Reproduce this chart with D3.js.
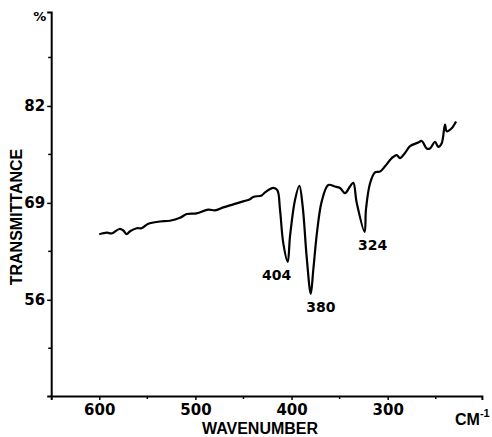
<!DOCTYPE html>
<html>
<head>
<meta charset="utf-8">
<script src="https://cdn.jsdelivr.net/npm/d3@7"></script>
<style>
  body { margin: 0; background: #fff; }
  svg text { font-family: "Liberation Sans", Arial, sans-serif; font-weight: bold; fill: #000; }
  svg text.num { font-family: "DejaVu Sans", sans-serif; }
</style>
</head>
<body>
<div id="chart"></div>
<script>
// Spectrum (wavenumber cm-1, transmittance %)
const wavenumber = [600, 592, 587, 579, 575, 571.5, 568, 561, 556, 549, 537, 526.5, 516, 509, 498.7, 486.6,
  479.6, 471, 460.6, 450.2, 443.2, 439.8, 431.1, 427.6, 419, 414.8, 412, 408.6, 404, 401.6, 396.4,
  391.9, 388.4, 384.3, 380, 377.4, 373.2, 368.6, 361.8, 354.8, 349.6, 344.4, 339.2, 335.8, 332.2,
  324, 322.6, 318.4, 313.2, 308, 302.8, 295.8, 290.6, 287.2, 282, 276.8, 268.2, 264.6, 259.4,
  256, 250.8, 247.4, 243.8, 240.4, 238.6, 233.4, 228.9];
const transmittance = [64.8, 65.0, 64.9, 65.5, 65.3, 64.8, 65.2, 65.6, 65.6, 66.2, 66.5, 66.6, 67.0, 67.5, 67.6, 68.1,
  68.0, 68.4, 68.8, 69.2, 69.5, 69.8, 70.0, 70.4, 71.0, 70.7, 68.1, 63.6, 61.1, 64.5, 69.4,
  71.3, 68.5, 61.8, 56.8, 60.0, 65.4, 69.2, 71.4, 71.2, 71.0, 70.3, 71.2, 71.7, 69.0,
  65.1, 68.1, 71.6, 73.1, 73.2, 73.9, 75.0, 75.4, 75.0, 75.7, 76.6, 77.1, 77.3, 76.3,
  76.3, 77.2, 76.5, 77.0, 79.5, 78.6, 79.0, 79.9];

const peakLabels = ['404', '380', '324'];
const peakPos = [404, 380, 324];
const peakVal = [61.1, 56.8, 65.1];

const xMajor = [600, 500, 400, 300];
const xMinor = [550, 450, 350, 250];
const yMajor = [56, 69, 82];
const yMinor = [49.5, 62.5, 75.5, 88.5];

const width = 492, height = 437;

const svg = d3.select('#chart').append('svg')
  .attr('width', width)
  .attr('height', height);

const x = d3.scaleLinear().domain([650, 202]).range([51.2, 481.9]);
const y = d3.scaleLinear().domain([43.1, 94.6]).range([396, 12]);

// Axes
const xAxis = svg.append('g')
  .attr('transform', `translate(0,${y.range()[0]})`)
  .call(d3.axisBottom(x).tickValues(xMajor).tickSize(4).tickSizeOuter(4).tickPadding(4).tickFormat(d3.format('d')));

const yAxis = svg.append('g')
  .attr('transform', `translate(${x.range()[0]},0)`)
  .call(d3.axisLeft(y).tickValues(yMajor).tickSize(4).tickSizeOuter(4).tickPadding(2).tickFormat(d3.format('d')));

[xAxis, yAxis].forEach(g => {
  g.select('.domain').attr('stroke', '#000').attr('stroke-width', 2);
  g.selectAll('.tick line').attr('stroke', '#000').attr('stroke-width', 1.5);
  g.selectAll('.tick text').attr('class', 'num').attr('font-size', 15);
});

// Minor ticks
xAxis.selectAll('.minor').data(xMinor).enter().append('line')
  .attr('x1', d => x(d)).attr('x2', d => x(d))
  .attr('y1', 0).attr('y2', 3)
  .attr('stroke', '#000').attr('stroke-width', 1.5);

yAxis.selectAll('.minor').data(yMinor).enter().append('line')
  .attr('y1', d => y(d)).attr('y2', d => y(d))
  .attr('x1', 0).attr('x2', -3)
  .attr('stroke', '#000').attr('stroke-width', 1.5);

// % marker at top of y axis
svg.append('text')
  .attr('class', 'num')
  .attr('x', x.range()[0] - 5)
  .attr('y', y.range()[1] + 9)
  .attr('text-anchor', 'end')
  .attr('font-size', 13)
  .text('%');

// Axis titles
svg.append('text')
  .attr('x', 260)
  .attr('y', 434)
  .attr('text-anchor', 'middle')
  .attr('font-size', 16)
  .text('WAVENUMBER');

svg.append('text')
  .attr('transform', 'translate(22,217) rotate(-90)')
  .attr('text-anchor', 'middle')
  .attr('font-size', 16)
  .text('TRANSMITTANCE');

const unit = svg.append('text')
  .attr('x', 455)
  .attr('y', 425)
  .attr('font-size', 16)
  .text('CM');
unit.append('tspan')
  .attr('dy', -8)
  .attr('font-size', 11)
  .text('-1');

// Spectrum line
const line = d3.line()
  .x(d => x(d[0]))
  .y(d => y(d[1]))
  .curve(d3.curveCatmullRom.alpha(0.5));

svg.append('path')
  .datum(d3.zip(wavenumber, transmittance))
  .attr('fill', 'none')
  .attr('stroke', '#000')
  .attr('stroke-width', 2.2)
  .attr('stroke-linejoin', 'round')
  .attr('d', line);

// Peak labels
svg.selectAll('.peak').data(peakLabels).enter().append('text')
  .attr('class', 'num')
  .attr('x', (d, i) => x(peakPos[i]) + (i === 0 ? -11 : i === 1 ? 10 : 8))
  .attr('y', (d, i) => y(peakVal[i]) + 18)
  .attr('text-anchor', 'middle')
  .attr('font-size', 14)
  .text(d => d);
</script>
</body>
</html>
